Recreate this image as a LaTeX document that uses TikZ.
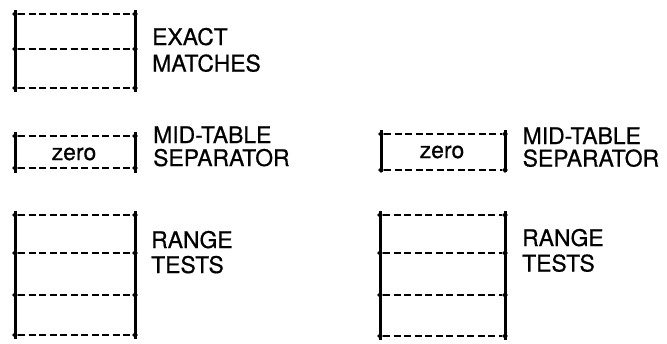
\documentclass[tikz,border=0pt]{standalone}
\usepackage{fontspec}
\setmainfont{TeX Gyre Heros}
\newfontfamily\lblfont[FakeBold=0.6]{TeX Gyre Heros}
\usetikzlibrary{shapes.geometric}
\begin{document}
\begin{tikzpicture}[x=1bp,y=-1bp,
  vline/.style={line width=3bp},
  hline/.style={line width=2bp, dash pattern=on 7bp off 3.5bp},
  jn/.style={diamond, fill, inner sep=0pt, minimum size=6bp},
  lbl/.style={anchor=base west, inner sep=0pt, font=\lblfont\fontsize{23}{26}\selectfont},
  zlbl/.style={anchor=base, inner sep=0pt, font=\lblfont\fontsize{23}{26}\selectfont},
]
\useasboundingbox (0,0) rectangle (667,343);
% generic table: name, xleft, xright, top ext, bottom ext, list of rows
\newcommand\drawtbl[6]{%
  \coordinate (#1-tl) at (#2,#4);
  \coordinate (#1-bl) at (#2,#5);
  \coordinate (#1-tr) at (#3,#4);
  \coordinate (#1-br) at (#3,#5);
  \draw[vline] (#1-tl) -- (#1-bl);
  \draw[vline] (#1-tr) -- (#1-br);
  \foreach \yy [count=\k] in {#6}{%
    \coordinate (#1-l\k) at (#2,\yy);
    \coordinate (#1-r\k) at (#3,\yy);
    \node[jn] at (#1-l\k) {};
    \node[jn] at (#1-r\k) {};
    \draw[hline] ([xshift=3bp]#1-l\k) -- ([xshift=-3bp]#1-r\k);
  }%
}
% left column
\drawtbl{ex}{15}{135}{10}{92}{14,49,88}
\drawtbl{ml}{15}{135}{132}{173}{136,168}
\drawtbl{rl}{15}{135}{211}{339}{215,253,295,335}
% right column
\drawtbl{mr}{381}{505}{130}{172}{134,170}
\drawtbl{rr}{380}{505}{211}{340}{215,253,295,336}

% labels
\node[lbl] (t1) at (152,45) {EXACT};
\node[lbl] (t2) at (152,71.5) {MATCHES};
\node[lbl] (t3) at (153,143) {MID-TABLE};
\node[lbl] (t4) at (153,166) {SEPARATOR};
\node[lbl] (t5) at (151,248) {RANGE};
\node[lbl] (t6) at (151,273) {TESTS};
\node[lbl] (t7) at (522.5,144) {MID-TABLE};
\node[lbl] (t8) at (522.5,166.5) {SEPARATOR};
\node[lbl] (t9) at (522,246) {RANGE};
\node[lbl] (t10) at (522,271.5) {TESTS};
\node[zlbl] (z1) at (74,160) {zero};
\node[zlbl] (z2) at (442,158) {zero};
\end{tikzpicture}
\end{document}
